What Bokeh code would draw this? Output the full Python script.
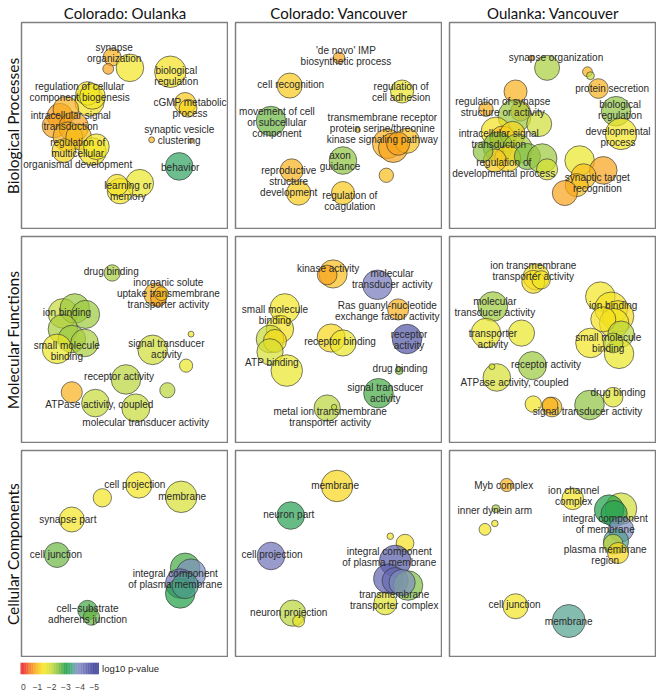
import numpy as np
from bokeh.plotting import figure
from bokeh.layouts import column, row
from bokeh.models import Range1d, ColumnDataSource, FixedTicker
from bokeh.transform import linear_cmap
from bokeh.core.properties import value
from bokeh.embed import file_html
from bokeh.resources import INLINE

# ---------------- data ----------------
COLUMN_TITLES = ["Colorado: Oulanka", "Colorado: Vancouver", "Oulanka: Vancouver"]
ROW_TITLES = ["Biological Processes", "Molecular Functions", "Cellular Components"]
CB_TICKS = [0, -1, -2, -3, -4, -5]
CB_LABELS = ["0", "\u22121", "\u22122", "\u22123", "\u22124", "\u22125"]
CB_TITLE = "log10 p-value"

# semantic-space coordinates (x, y), bubble radius, log10 p-value
BP_CO_X = [92, 88, 110, 151, 166, 169, 132, 172, 160, 120, 100, 97, 69, 67, 72, 39, 45, 33, 53, 47, 58, 72, 43, 76]
BP_CO_Y = [35, 47, 46, 50, 82, 87, 119, 120, 146, 163, 171, 165, 80, 72, 75, 95, 88, 105, 106, 116, 116, 131, 130, 126]
BP_CO_R = [9, 5.5, 14, 16, 11, 9, 3, 2.3, 14, 14, 13, 11, 15, 12, 13, 13, 13, 12, 15, 15, 13, 14, 12, 13]
BP_CO_P = [-0.9, -0.8, -1.5, -1.4, -1.1, -1.2, -0.9, -0.9, -3.2, -1.6, -1.5, -1.4, -1.4, -1.5, -1.5, -0.7, -0.9, -0.8, -0.8, -0.9, -1.0, -1.4, -1.2, -1.5]
BP_CO_LAB = ["synapse\norganization", "biological\nregulation", "regulation of cellular\ncomponent biogenesis",
             "cGMP metabolic\nprocess", "intracellular signal\ntransduction", "synaptic vesicle\nclustering",
             "regulation of\nmulticellular\norganismal development", "behavior", "learning or\nmemory"]
BP_CO_LX = [94, 157, 59, 171, 50, 160, 57, 161, 108]
BP_CO_LY = [31, 54, 71, 87, 100, 114, 133, 147, 171]

BP_CV_X = [105, 55, 169, 36, 124, 154, 160, 174, 165, 109, 153, 57, 64, 109]
BP_CV_Y = [36, 64, 70, 100, 109, 123, 127, 120, 123, 140, 155, 150, 173, 173]
BP_CV_R = [6, 12.7, 11.7, 15, 2.7, 15, 15, 12.7, 11.7, 14, 7.3, 11.7, 12.3, 11.7]
BP_CV_P = [-0.8, -1.1, -1.6, -2.6, -0.9, -0.9, -0.8, -1.0, -0.8, -2.4, -1.0, -0.9, -1.1, -1.1]
BP_CV_LAB = ["'de novo' IMP\nbiosynthetic process", "cell recognition", "regulation of\ncell adhesion",
             "movement of cell\nor subcellular\ncomponent",
             "transmembrane receptor\nprotein serine/threonine\nkinase signaling pathway",
             "axon\nguidance", "reproductive\nstructure\ndevelopment", "regulation of\ncoagulation"]
BP_CV_LX = [112, 56, 168, 42, 149, 106, 54, 116]
BP_CV_LY = [34, 63, 70, 101, 108, 141, 161, 181]

BP_OV_X = [83, 99, 140, 143, 151, 169, 174, 67, 37, 72, 66, 91, 47, 54, 64, 49, 69, 59, 79, 94, 99, 46, 34, 132, 156, 136, 129, 117]
BP_OV_Y = [36, 46, 50, 54, 67, 90, 113, 70, 88, 90, 95, 103, 111, 118, 113, 126, 128, 138, 136, 138, 149, 140, 131, 140, 150, 156, 165, 173]
BP_OV_R = [2.7, 12.7, 5, 4, 10, 15, 16, 11.7, 7.3, 10, 16.7, 12.7, 15, 13, 12.7, 15, 15, 13.3, 13.3, 15, 10.7, 11.7, 10, 15, 14, 12.7, 11.7, 12.7]
BP_OV_P = [-0.8, -2.2, -0.9, -2.0, -0.9, -2.4, -1.5, -0.9, -0.9, -0.9, -2.3, -1.9, -1.4, -1.0, -1.2, -2.5, -2.2, -1.2, -2.5, -2.3, -1.8, -1.1, -2.4, -1.6, -0.8, -1.0, -1.0, -0.8]
BP_OV_LAB = ["synapse organization", "protein secretion", "regulation of synapse\nstructure or activity",
             "biological\nregulation", "developmental\nprocess", "intracellular signal\ntransduction",
             "regulation of\ndevelopmental process", "synaptic target\nrecognition"]
BP_OV_LX = [108, 165, 54, 173, 171, 50, 55, 150]
BP_OV_LY = [35, 67, 86, 89, 116, 118, 148, 163]

MF_CO_X = [92, 136, 139, 142, 42, 54, 65, 42, 51, 64, 36, 133, 172, 167, 106, 148, 51, 75, 116]
MF_CO_Y = [37, 59, 63, 58, 78, 73, 79, 94, 104, 108, 114, 115, 99, 131, 145, 156, 158, 169, 174]
MF_CO_R = [8.3, 11.7, 8, 7, 15, 15, 14.3, 15, 14, 14, 15, 15, 3, 6.7, 15, 7.7, 10.7, 14, 14.3]
MF_CO_P = [-2.2, -0.9, -0.8, -1.0, -2.0, -2.3, -2.3, -2.2, -2.3, -2.2, -1.6, -1.9, -1.5, -1.6, -2.1, -2.1, -0.9, -2.0, -2.0]
MF_CO_LAB = ["drug binding", "inorganic solute\nuptake transmembrane\ntransporter activity", "ion binding",
             "small molecule\nbinding", "signal transducer\nactivity", "receptor activity",
             "ATPase activity, coupled", "molecular transducer activity"]
MF_CO_LX = [91, 149, 46, 46, 147, 99, 79, 126]
MF_CO_LY = [35, 58, 77, 116, 114, 142, 170, 189]

MF_CV_X = [99, 93, 144, 165, 174, 166, 145, 93, 100, 97, 109, 50, 45, 35, 40, 35, 52]
MF_CV_Y = [38, 39, 49, 74, 104, 136, 159, 174, 173, 103, 108, 73, 94, 104, 106, 117, 136]
MF_CV_R = [14.3, 10, 15, 10.7, 15, 4, 15, 13.3, 2.7, 14.3, 13.3, 15, 14, 14, 11.7, 13.3, 16]
MF_CV_P = [-1.0, -0.8, -4.2, -0.9, -4.7, -2.5, -2.8, -2.1, -2.0, -1.2, -1.6, -1.5, -1.4, -2.0, -1.3, -1.8, -1.6]
MF_CV_LAB = ["kinase activity", "molecular\ntransducer activity", "small molecule\nbinding",
             "Ras guanyl-nucleotide\nexchange factor activity", "receptor binding", "receptor\nactivity",
             "ATP binding", "drug binding", "signal transducer\nactivity",
             "metal ion transmembrane\ntransporter activity"]
MF_CV_LX = [94, 159, 40, 154, 106, 176, 37, 167, 152, 96]
MF_CV_LY = [32, 43, 80, 76, 107, 105, 128, 134, 159, 183]

MF_OV_X = [88, 85, 93, 44, 37, 73, 84, 48, 43, 85, 104, 102, 142, 166, 153, 164, 171, 167, 156, 174, 143, 172, 166]
MF_OV_Y = [41, 46, 44, 71, 98, 98, 131, 143, 132, 170, 173, 171, 171, 163, 61, 73, 81, 88, 84, 99, 108, 119, 108]
MF_OV_R = [13.3, 11.7, 9.3, 15, 15, 13.3, 14.3, 14, 3, 8.3, 10, 8, 15, 10, 15, 16.7, 16, 15, 12.7, 13.3, 15, 15, 10]
MF_OV_P = [-1.4, -1.3, -1.5, -2.3, -1.6, -1.6, -2.3, -1.8, -1.8, -1.5, -1.0, -0.9, -2.4, -1.7, -1.5, -1.4, -1.3, -1.5, -1.4, -2.1, -1.5, -1.6, -2.0]
MF_OV_LAB = ["ion transmembrane\ntransporter activity", "molecular\ntransducer activity", "ion binding",
             "transporter\nactivity", "small molecule\nbinding", "receptor activity",
             "ATPase activity, coupled", "drug binding", "signal transducer activity"]
MF_OV_LX = [85, 46, 166, 44, 161, 98, 66, 171, 140]
MF_OV_LY = [35, 72, 70, 104, 108, 130, 148, 158, 178]

CC_CO_X = [119, 162, 82, 51, 36, 67, 71, 166, 172, 161, 161, 166]
CC_CO_Y = [35, 47, 48, 70, 106, 162, 169, 119, 125, 135, 145, 137]
CC_CO_R = [13.3, 16, 9.3, 12.7, 12.7, 10, 8.3, 15, 15, 15, 15, 13.3]
CC_CO_P = [-1.5, -1.8, -1.5, -1.5, -2.6, -2.8, -2.6, -2.8, -3.8, -4.3, -3.0, -3.5]
CC_CO_LAB = ["cell projection", "membrane", "synapse part", "cell junction",
             "integral component\nof plasma membrane", "cell\u2212substrate\nadherens junction"]
CC_CO_LX = [115, 163, 47, 35, 156, 67]
CC_CO_LY = [34, 47, 70, 106, 130, 166]

CC_CV_X = [103, 56, 36, 58, 64, 157, 172, 152, 162, 155, 162, 175, 169]
CC_CV_Y = [36, 66, 107, 165, 173, 87, 94, 155, 112, 130, 132, 137, 134]
CC_CV_R = [16, 14, 14, 13.3, 6, 3.3, 9, 11.7, 16, 15, 13.3, 15, 13.3]
CC_CV_P = [-1.2, -3.1, -4.3, -2.1, -1.6, -1.4, -1.4, -1.7, -4.6, -4.5, -4.4, -2.5, -3.8]
CC_CV_LAB = ["membrane", "neuron part", "cell projection", "integral component\nof plasma membrane",
             "transmembrane\ntransporter complex", "neuron projection"]
CC_CV_LX = [101, 54, 37, 156, 161, 54]
CC_CV_LY = [35, 65, 105, 108, 152, 164]

CC_OV_X = [58, 47, 36, 46, 125, 174, 162, 167, 174, 169, 166, 171, 67, 121]
CC_OV_Y = [35, 59, 80, 74, 49, 59, 60, 64, 80, 92, 95, 104, 158, 173]
CC_OV_R = [6.7, 4, 6, 3.3, 11, 16, 15, 13.3, 12.7, 12.7, 10, 10.7, 12.7, 16.7]
CC_OV_P = [-0.9, -2.2, -1.5, -1.5, -1.5, -1.9, -3.0, -3.1, -3.8, -3.5, -2.0, -1.2, -1.5, -3.5]
CC_OV_LAB = ["Myb complex", "inner dynein arm", "ion channel\ncomplex", "integral component\nof membrane",
             "plasma membrane\nregion", "cell junction", "membrane"]
CC_OV_LX = [55, 46, 126, 158, 158, 66, 121]
CC_OV_LY = [35, 61, 46, 75, 106, 156, 173]

PANELS = [
    [(BP_CO_X, BP_CO_Y, BP_CO_R, BP_CO_P, BP_CO_LAB, BP_CO_LX, BP_CO_LY),
     (BP_CV_X, BP_CV_Y, BP_CV_R, BP_CV_P, BP_CV_LAB, BP_CV_LX, BP_CV_LY),
     (BP_OV_X, BP_OV_Y, BP_OV_R, BP_OV_P, BP_OV_LAB, BP_OV_LX, BP_OV_LY)],
    [(MF_CO_X, MF_CO_Y, MF_CO_R, MF_CO_P, MF_CO_LAB, MF_CO_LX, MF_CO_LY),
     (MF_CV_X, MF_CV_Y, MF_CV_R, MF_CV_P, MF_CV_LAB, MF_CV_LX, MF_CV_LY),
     (MF_OV_X, MF_OV_Y, MF_OV_R, MF_OV_P, MF_OV_LAB, MF_OV_LX, MF_OV_LY)],
    [(CC_CO_X, CC_CO_Y, CC_CO_R, CC_CO_P, CC_CO_LAB, CC_CO_LX, CC_CO_LY),
     (CC_CV_X, CC_CV_Y, CC_CV_R, CC_CV_P, CC_CV_LAB, CC_CV_LX, CC_CV_LY),
     (CC_OV_X, CC_OV_Y, CC_OV_R, CC_OV_P, CC_OV_LAB, CC_OV_LX, CC_OV_LY)],
]

# ---------------- colour scale ----------------
ANCHOR_V = [-5.0, -4.2, -3.8, -3.4, -3.0, -2.5, -2.0, -1.5, -1.2, -0.8, -0.4, 0.0]
ANCHOR_C = ["#3a3d96", "#7478bb", "#7e8ec0", "#3fa77a", "#1e9e45", "#7dbd41", "#c6da38",
            "#f2e723", "#f8d51a", "#f8a51b", "#f36f21", "#e8262a"]


def hex_rgb(h):
    return [int(h[i:i + 2], 16) for i in (1, 3, 5)]


def build_palette(n=256):
    rgb = np.array([hex_rgb(c) for c in ANCHOR_C], dtype=float)
    vs = np.linspace(-5, 0, n)
    cols = []
    for v in vs:
        r = np.interp(v, ANCHOR_V, rgb[:, 0])
        g = np.interp(v, ANCHOR_V, rgb[:, 1])
        b = np.interp(v, ANCHOR_V, rgb[:, 2])
        cols.append("#%02x%02x%02x" % (int(round(r)), int(round(g)), int(round(b))))
    return cols


PALETTE = build_palette()
LOW, HIGH = -5, 0

FW, FH = 207, 207
TEXT_FONT = value("Liberation Sans")
TITLE_FONT = "Lato"


def make_panel(ri, ci, data):
    xs, ys, rs, ps, labs, lxs, lys = data
    p = figure(frame_width=FW, frame_height=FH,
               x_range=Range1d(0, 210), y_range=Range1d(210, 0),
               output_backend="svg", toolbar_location=None,
               x_axis_location=None,
               y_axis_location=("left" if ci == 0 else None),
               min_border=0,
               min_border_left=(20 if ci == 0 else 7),
               min_border_top=(0 if ri == 0 else 7),
               background_fill_color="white", border_fill_color="white")
    p.grid.visible = False
    p.outline_line_color = "#7f7f7f"
    p.outline_line_width = 1.5
    if ci == 0:
        ax = p.yaxis[0]
        ax.ticker = FixedTicker(ticks=[])
        ax.axis_line_color = None
        ax.major_tick_line_color = None
        ax.minor_tick_line_color = None
        ax.major_label_text_font_size = "0px"
        ax.major_tick_out = 0
        ax.major_tick_in = 0
        ax.major_label_standoff = 0
        ax.axis_label = ROW_TITLES[ri]
        ax.axis_label_standoff = 0
        ax.axis_label_text_font = TITLE_FONT
        ax.axis_label_text_font_size = "15.5px"
        ax.axis_label_text_font_style = "normal"
        ax.axis_label_text_color = "#111111"
    if ri == 0:
        p.title.text = COLUMN_TITLES[ci]
        p.title.align = "center"
        p.title.text_font = TITLE_FONT
        p.title.text_font_size = "15px"
        p.title.text_font_style = "normal"
        p.title.text_color = "#111111"
        p.title.standoff = 2
        p.title.offset = 0

    src = ColumnDataSource(dict(x=xs, y=ys, r=rs, lp=ps))
    p.circle(x="x", y="y", radius="r", source=src,
             fill_color=linear_cmap("lp", PALETTE, LOW, HIGH), fill_alpha=0.7,
             line_color="#333333", line_alpha=0.8, line_width=0.8)
    lsrc = ColumnDataSource(dict(x=lxs, y=lys, t=labs))
    p.text(x="x", y="y", text="t", source=lsrc, text_font=TEXT_FONT,
           text_font_size="10px", text_align="center", text_baseline="middle",
           text_color="#2a2a2a", text_line_height=1.0)
    return p


rows = []
for ri in range(3):
    rows.append(row(*[make_panel(ri, ci, PANELS[ri][ci]) for ci in range(3)]))

# ---------------- colour bar ----------------
CB_VALUES = [round(0.2 - 0.05 * i, 3) for i in range(111)]
cb = figure(frame_width=150, frame_height=12,
            x_range=Range1d(0.2, -10.38), y_range=Range1d(0, 1),
            output_backend="svg", toolbar_location=None,
            y_axis_location=None, min_border=0, min_border_left=20, min_border_top=5,
            min_border_bottom=0, background_fill_color="white", border_fill_color="white")
cb.grid.visible = False
cb.outline_line_color = None
cb.rect(x="v", y=0.5, width=0.06, height=1, source=ColumnDataSource(dict(v=CB_VALUES)),
        fill_color=linear_cmap("v", PALETTE, LOW, HIGH), line_color=None)
cb.text(x=[-5.55], y=[0.5], text=[CB_TITLE], text_font=TEXT_FONT, text_font_size="9.5px",
        text_align="left", text_baseline="middle", text_color="#262626")
xa = cb.xaxis[0]
xa.ticker = FixedTicker(ticks=CB_TICKS)
xa.major_label_overrides = {t: l for t, l in zip(CB_TICKS, CB_LABELS)}
xa.axis_line_color = None
xa.major_tick_line_color = None
xa.minor_tick_line_color = None
xa.major_label_standoff = 3
xa.major_label_text_font = "Liberation Sans"
xa.major_label_text_font_size = "8.5px"
xa.major_label_text_color = "#444444"

layout = column(*rows, cb)
open("out.html", "w").write(file_html(layout, INLINE))
